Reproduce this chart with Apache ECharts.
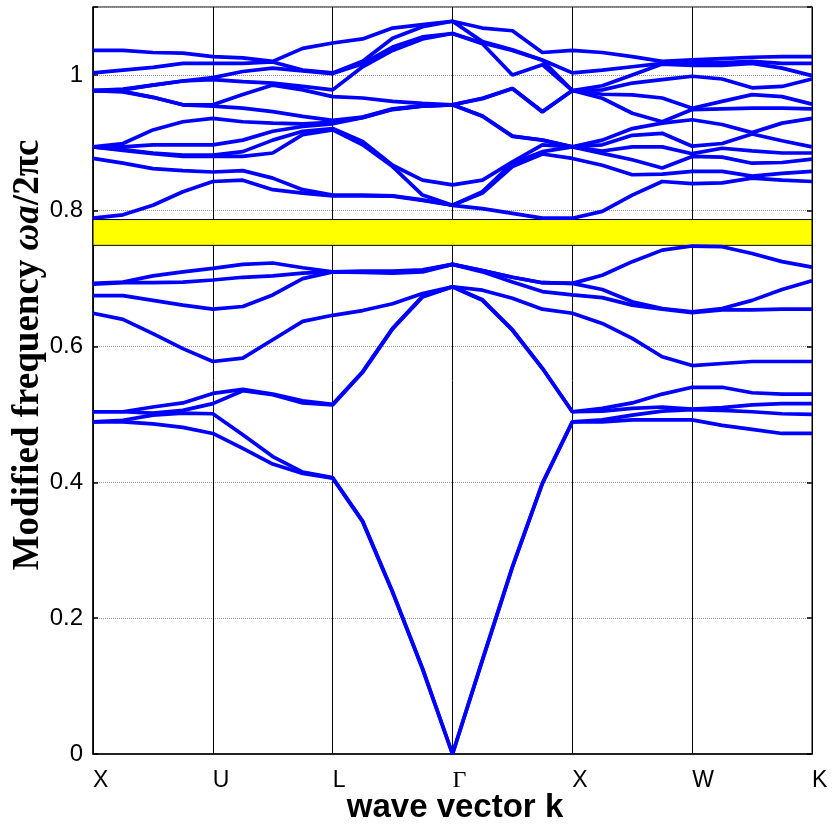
<!DOCTYPE html>
<html>
<head>
<meta charset="utf-8">
<script src="https://cdn.jsdelivr.net/npm/echarts@6/dist/echarts.min.js"></script>
<style>
html,body{margin:0;padding:0;background:#fff;}
#chart{width:832px;height:827px;}
</style>
</head>
<body>
<div id="chart"></div>
<script>
// High-symmetry points (every 4th k sample)
const kLabels = ['X', 'U', 'L', 'Γ', 'X', 'W', 'K'];
// Photonic band gap (normalized frequency)
const gapBand = [0.749, 0.787];

// Lower 8 bands, frequencies at each of the 25 k samples
const lowerBandsByK = [
  [0.489, 0.489, 0.504, 0.504, 0.649, 0.675, 0.692, 0.693],
  [0.489, 0.4915, 0.504, 0.504, 0.640, 0.675, 0.694, 0.695],
  [0.486, 0.499, 0.502, 0.511, 0.619, 0.668, 0.694, 0.704],
  [0.481, 0.502, 0.506, 0.517, 0.597, 0.661, 0.695, 0.710],
  [0.472, 0.501, 0.516, 0.531, 0.578, 0.655, 0.698, 0.715],
  [0.450, 0.470, 0.535, 0.537, 0.583, 0.659, 0.702, 0.721],
  [0.427, 0.438, 0.529, 0.530, 0.610, 0.676, 0.704, 0.723],
  [0.413, 0.415, 0.517, 0.520, 0.637, 0.700, 0.708, 0.716],
  [0.406, 0.407, 0.514, 0.515, 0.646, 0.710, 0.710, 0.710],
  [0.342, 0.343, 0.562, 0.563, 0.653, 0.709, 0.710, 0.711],
  [0.238, 0.239, 0.626, 0.627, 0.663, 0.708, 0.710, 0.711],
  [0.125, 0.126, 0.673, 0.674, 0.678, 0.710, 0.712, 0.713],
  [0.000, 0.000, 0.688, 0.688, 0.688, 0.721, 0.721, 0.721],
  [0.138, 0.139, 0.668, 0.669, 0.683, 0.710, 0.712, 0.712],
  [0.275, 0.276, 0.624, 0.625, 0.671, 0.695, 0.702, 0.702],
  [0.398, 0.399, 0.568, 0.568, 0.655, 0.681, 0.694, 0.694],
  [0.489, 0.489, 0.504, 0.504, 0.649, 0.676, 0.693, 0.693],
  [0.489, 0.492, 0.505, 0.509, 0.634, 0.672, 0.684, 0.705],
  [0.492, 0.499, 0.509, 0.517, 0.612, 0.661, 0.666, 0.725],
  [0.492, 0.505, 0.511, 0.530, 0.585, 0.655, 0.656, 0.742],
  [0.492, 0.507, 0.508, 0.540, 0.572, 0.650, 0.651, 0.748],
  [0.484, 0.506, 0.510, 0.540, 0.575, 0.654, 0.656, 0.747],
  [0.478, 0.504, 0.514, 0.532, 0.578, 0.654, 0.668, 0.737],
  [0.472, 0.501, 0.516, 0.530, 0.578, 0.655, 0.684, 0.725],
  [0.472, 0.500, 0.516, 0.530, 0.578, 0.655, 0.697, 0.717]
];

// Upper 12 bands, frequencies at each of the 25 k samples
const upperBandsByK = [
  [0.789, 0.877, 0.894, 0.894, 0.894, 0.894, 0.977, 0.977, 0.977, 0.977, 1.003, 1.036],
  [0.794, 0.870, 0.889, 0.890, 0.894, 0.899, 0.975, 0.976, 0.978, 0.979, 1.007, 1.036],
  [0.808, 0.862, 0.884, 0.885, 0.897, 0.919, 0.967, 0.967, 0.985, 0.985, 1.011, 1.033],
  [0.828, 0.859, 0.880, 0.882, 0.897, 0.931, 0.956, 0.956, 0.991, 0.991, 1.017, 1.032],
  [0.843, 0.857, 0.880, 0.882, 0.897, 0.936, 0.954, 0.956, 0.993, 0.996, 1.017, 1.027],
  [0.845, 0.859, 0.880, 0.887, 0.904, 0.931, 0.951, 0.971, 0.990, 1.005, 1.017, 1.025],
  [0.831, 0.848, 0.885, 0.904, 0.917, 0.929, 0.946, 0.985, 0.988, 1.010, 1.019, 1.020],
  [0.826, 0.831, 0.912, 0.917, 0.924, 0.928, 0.939, 0.978, 0.983, 1.006, 1.007, 1.039],
  [0.822, 0.823, 0.919, 0.921, 0.928, 0.930, 0.933, 0.968, 0.978, 1.002, 1.003, 1.047],
  [0.822, 0.823, 0.897, 0.902, 0.937, 0.9375, 0.938, 0.966, 1.012, 1.0165, 1.020, 1.053],
  [0.8215, 0.822, 0.865, 0.867, 0.949, 0.9494, 0.950, 0.961, 1.036, 1.041, 1.054, 1.069],
  [0.815, 0.816, 0.823, 0.845, 0.954, 0.9543, 0.9545, 0.958, 1.053, 1.056, 1.071, 1.074],
  [0.808, 0.808, 0.808, 0.838, 0.956, 0.956, 0.956, 0.956, 1.061, 1.061, 1.079, 1.079],
  [0.803, 0.826, 0.828, 0.845, 0.939, 0.9394, 0.965, 0.9656, 1.046, 1.047, 1.049, 1.069],
  [0.796, 0.865, 0.870, 0.872, 0.9095, 0.910, 0.980, 0.980, 1.000, 1.036, 1.037, 1.065],
  [0.789, 0.8835, 0.887, 0.897, 0.904, 0.9042, 0.9455, 0.946, 1.015, 1.0215, 1.022, 1.033],
  [0.789, 0.877, 0.894, 0.894, 0.894, 0.894, 0.977, 0.977, 0.977, 0.977, 1.003, 1.036],
  [0.799, 0.867, 0.8845, 0.888, 0.897, 0.904, 0.9656, 0.9715, 0.978, 0.984, 1.007, 1.033],
  [0.823, 0.853, 0.875, 0.894, 0.911, 0.921, 0.9435, 0.9705, 0.988, 1.000, 1.012, 1.027],
  [0.843, 0.854, 0.863, 0.894, 0.914, 0.929, 0.931, 0.966, 0.993, 1.016, 1.017, 1.020],
  [0.840, 0.858, 0.880, 0.884, 0.895, 0.934, 0.949, 0.951, 0.998, 1.014, 1.019, 1.022],
  [0.841, 0.858, 0.879, 0.892, 0.899, 0.927, 0.950, 0.961, 0.994, 1.014, 1.018, 1.024],
  [0.848, 0.851, 0.870, 0.888, 0.913, 0.915, 0.951, 0.971, 0.981, 1.017, 1.020, 1.026],
  [0.845, 0.855, 0.871, 0.885, 0.903, 0.929, 0.951, 0.968, 0.983, 1.010, 1.017, 1.027],
  [0.843, 0.858, 0.876, 0.885, 0.894, 0.936, 0.950, 0.957, 0.994, 0.999, 1.017, 1.027]
];

function bandSeries(rows) {
  const sortedRows = rows.map(r => r.slice().sort((a, b) => a - b));
  const n = sortedRows[0].length;
  const out = [];
  for (let b = 0; b < n; b++) {
    out.push({
      type: 'line',
      symbol: 'none',
      z: 5,
      silent: true,
      lineStyle: { color: '#0000ff', width: 3.7 },
      data: sortedRows.map((r, k) => [k, r[b]])
    });
  }
  return out;
}

const series = [{
  type: 'line',
  data: [],
  z: 1,
  silent: true,
  markArea: {
    silent: true,
    itemStyle: { color: '#ffff00', borderColor: '#000', borderWidth: 1 },
    data: [[{ yAxis: gapBand[0] }, { yAxis: gapBand[1] }]]
  }
}].concat(bandSeries(lowerBandsByK), bandSeries(upperBandsByK));

const chart = echarts.init(document.getElementById('chart'), null, { renderer: 'canvas' });
chart.setOption({
  animation: false,
  backgroundColor: '#fff',
  grid: { left: 93, right: 20, top: 7, bottom: 73, show: true, borderColor: '#000', borderWidth: 1, backgroundColor: 'transparent' },
  xAxis: {
    type: 'value', min: 0, max: 24, interval: 4,
    axisLine: { lineStyle: { color: '#000', width: 1.5 } },
    axisTick: { show: false },
    splitLine: { show: true, lineStyle: { color: '#000', width: 1 } },
    axisLabel: {
      color: '#000', fontSize: 23, fontFamily: 'Liberation Sans', align: 'left', margin: 15,
      formatter: function (v) {
        const lab = kLabels[Math.round(v / 4)];
        return lab === 'Γ' ? '{g|Γ}' : lab;
      },
      rich: { g: { fontFamily: 'Liberation Serif', fontSize: 24, color: '#000' } }
    }
  },
  yAxis: [{
    type: 'value', min: 0, max: 1.1, interval: 0.2,
    axisLine: { lineStyle: { color: '#000', width: 1.5 } },
    axisTick: { show: true, inside: true, length: 5, lineStyle: { color: '#000', width: 1.5 } },
    splitLine: { show: true, lineStyle: { color: '#999', width: 1, type: [1, 1] } },
    axisLabel: { color: '#000', fontSize: 24, fontFamily: 'Liberation Sans', margin: 10,
      formatter: function (v) { return v > 1.05 ? '' : String(+v.toFixed(1)); } }
  }, {
    type: 'value', min: 0, max: 1.1, interval: 0.2, position: 'right',
    axisLine: { show: true, lineStyle: { color: '#000', width: 1 } },
    axisTick: { show: true, inside: true, length: 5, lineStyle: { color: '#000', width: 1.5 } },
    splitLine: { show: false },
    axisLabel: { show: false }
  }],
  graphic: [{
    type: 'text', x: 28, y: 355, rotation: Math.PI / 2, z: 10,
    style: {
      text: '{b|Modified frequency }{i|ωa}{b|/2πc}',
      align: 'center', verticalAlign: 'middle',
      rich: {
        b: { fontFamily: 'Liberation Serif', fontWeight: 'bold', fontSize: 37, fill: '#000' },
        i: { fontFamily: 'Liberation Serif', fontWeight: 'bold', fontStyle: 'italic', fontSize: 37, fill: '#000' }
      }
    }
  }, {
    type: 'text', x: 455, y: 808, z: 10,
    style: {
      text: 'wave vector k', fill: '#000',
      font: 'bold 33px "Liberation Sans"',
      align: 'center', verticalAlign: 'middle'
    }
  }],
  series: series
});
</script>
</body>
</html>
